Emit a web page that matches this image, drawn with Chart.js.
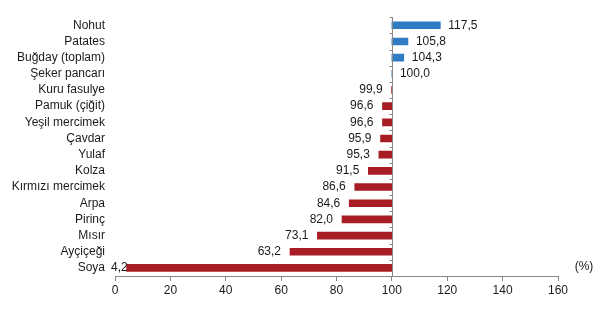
<!DOCTYPE html>
<html>
<head>
<meta charset="utf-8">
<script src="https://cdn.jsdelivr.net/npm/chart.js@4/dist/chart.umd.min.js"></script>
<style>
  html, body { margin: 0; padding: 0; background: #ffffff; }
  #wrap { width: 608px; height: 320px; position: relative; }
</style>
</head>
<body>
<div id="wrap"><canvas id="chart"></canvas></div>
<script>
const categories = [
  'Nohut', 'Patates', 'Buğday (toplam)', 'Şeker pancarı', 'Kuru fasulye',
  'Pamuk (çiğit)', 'Yeşil mercimek', 'Çavdar', 'Yulaf', 'Kolza',
  'Kırmızı mercimek', 'Arpa', 'Pirinç', 'Mısır', 'Ayçiçeği', 'Soya',
];
const values = [
  117.5, 105.8, 104.3, 100.0, 99.9,
  96.6, 96.6, 95.9, 95.3, 91.5,
  86.6, 84.6, 82.0, 73.1, 63.2, 4.2,
];
const baseValue = 100;
const xTicks = [0, 20, 40, 60, 80, 100, 120, 140, 160];
const unitLabel = '(%)';

const BLUE = '#2f7cc4';
const RED = '#a81d23';
const AXIS = '#878787';
const TEXT = '#1a1a1a';
const FONT = "'Liberation Sans', Arial, sans-serif";

function fmt(v) {
  return v.toFixed(1).replace('.', ',');
}

// vertical axis at 100 with small ticks between categories
const baseAxisPlugin = {
  id: 'baseAxis',
  afterDatasetsDraw(chart) {
    const { ctx, chartArea, scales } = chart;
    const x = Math.round(scales.x.getPixelForValue(baseValue)) + 0.5;
    ctx.save();
    ctx.strokeStyle = AXIS;
    ctx.lineWidth = 1;
    ctx.beginPath();
    ctx.moveTo(x, chartArea.top);
    ctx.lineTo(x, chartArea.bottom);
    const band = (chartArea.bottom - chartArea.top) / categories.length;
    for (let i = 0; i <= categories.length; i++) {
      const y = Math.round(chartArea.top + i * band) + 0.5;
      ctx.moveTo(x - 3, y);
      ctx.lineTo(x, y);
    }
    ctx.stroke();
    ctx.restore();
  },
};

const valueLabelPlugin = {
  id: 'valueLabels',
  afterDatasetsDraw(chart) {
    const { ctx, scales, chartArea } = chart;
    ctx.save();
    ctx.font = `12px ${FONT}`;
    ctx.fillStyle = TEXT;
    ctx.textBaseline = 'middle';
    values.forEach((v, i) => {
      const y = scales.y.getPixelForValue(i);
      const x = scales.x.getPixelForValue(v);
      const txt = fmt(v);
      if (v >= baseValue) {
        ctx.textAlign = 'left';
        ctx.fillText(txt, x + 8, y);
      } else {
        // keep label clear of the category names
        const w = ctx.measureText(txt).width;
        const right = Math.max(x - 9, chartArea.left - 4 + w);
        ctx.textAlign = 'right';
        ctx.fillText(txt, right, y);
      }
    });
    ctx.textAlign = 'center';
    ctx.fillText(unitLabel, 584, scales.y.getPixelForValue(categories.length - 1) - 1);
    ctx.restore();
  },
};

new Chart(document.getElementById('chart'), {
  type: 'bar',
  data: {
    labels: categories,
    datasets: [{
      data: values.map((v) => [baseValue, v]),
      backgroundColor: values.map((v) => (v >= baseValue ? BLUE : RED)),
      borderWidth: 0,
      barThickness: 7,
    }],
  },
  options: {
    indexAxis: 'y',
    responsive: true,
    maintainAspectRatio: false,
    animation: false,
    layout: { padding: { top: 15, right: 50, bottom: 0, left: 0 } },
    plugins: {
      legend: { display: false },
      tooltip: { enabled: false },
    },
    scales: {
      x: {
        min: 0,
        max: 160,
        afterBuildTicks(scale) {
          scale.ticks = xTicks.map((v) => ({ value: v }));
        },
        afterFit(scale) { scale.height = 44; },
        border: { display: true, color: AXIS, width: 1 },
        grid: { display: true, drawOnChartArea: false, drawTicks: true, tickLength: 5, color: AXIS },
        ticks: { color: TEXT, font: { family: FONT, size: 12 }, padding: 2, maxRotation: 0 },
      },
      y: {
        afterFit(scale) { scale.width = 115; },
        border: { display: false },
        grid: { display: false, drawTicks: false },
        ticks: { color: TEXT, font: { family: FONT, size: 12 }, padding: 10, autoSkip: false },
      },
    },
  },
  plugins: [baseAxisPlugin, valueLabelPlugin],
});
</script>
</body>
</html>
